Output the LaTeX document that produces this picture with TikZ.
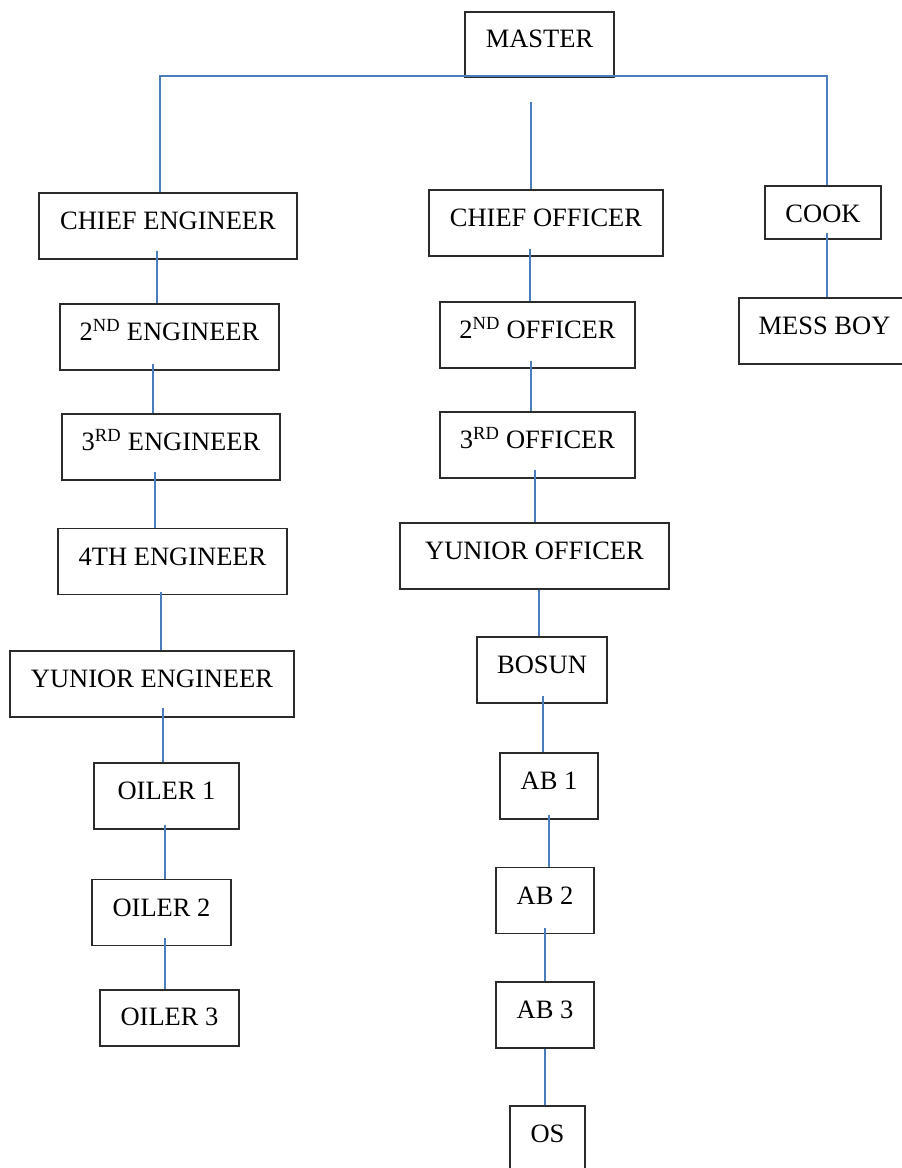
\documentclass[tikz,border=0pt]{standalone}
\usepackage{fontspec}
\setmainfont{Liberation Serif}
\usetikzlibrary{calc}
\definecolor{linkblue}{HTML}{4A7EBB}
\definecolor{boxline}{HTML}{2B2B2B}
\begin{document}
\begin{tikzpicture}[x=1pt,y=1pt,
  rank/.style={draw=boxline, line width=1.2pt, rectangle, inner sep=0pt,
    text height=36.5pt, text depth=29.5pt,
    font=\fontsize{26.5}{30}\selectfont},
  link/.style={draw=linkblue, line width=1.5pt}]
\useasboundingbox (0,0) rectangle (902,-1168);
\clip (0,0) rectangle (902,-1168);
\fill[white] (0,0) rectangle (902,-1168);
% nodes
\node[rank, text height=35pt, text depth=30pt, minimum width=149pt] (master) at (539.5,-44.5) {MASTER};
\node[rank, minimum width=258pt] (ce) at (168,-226) {CHIEF ENGINEER};
\node[rank, minimum width=234pt] (co) at (546,-223) {CHIEF OFFICER};
\node[rank, text height=36pt, text depth=17pt, minimum width=116pt] (cook) at (823,-212.5) {COOK};
\node[rank, minimum width=219pt] (e2) at (169.5,-337) {2\textsuperscript{ND} ENGINEER};
\node[rank, minimum width=218pt] (e3) at (171,-447) {3\textsuperscript{RD} ENGINEER};
\node[rank, minimum width=229pt] (e4) at (172.5,-561.5) {4TH ENGINEER};
\node[rank, minimum width=284pt] (ye) at (152,-684) {YUNIOR ENGINEER};
\node[rank, minimum width=145pt] (o1) at (166.5,-796) {OILER 1};
\node[rank, minimum width=139pt] (o2) at (161.5,-912.5) {OILER 2};
\node[rank, text height=35pt, text depth=21pt, minimum width=139pt] (o3) at (169.5,-1018) {OILER 3};
\node[rank, minimum width=195pt] (f2) at (537.5,-335) {2\textsuperscript{ND} OFFICER};
\node[rank, minimum width=195pt] (f3) at (537.5,-445) {3\textsuperscript{RD} OFFICER};
\node[rank, minimum width=269pt] (yo) at (534.5,-556) {YUNIOR OFFICER};
\node[rank, minimum width=130pt] (bosun) at (542,-670) {BOSUN};
\node[rank, minimum width=98pt] (ab1) at (549,-786) {AB 1};
\node[rank, minimum width=98pt] (ab2) at (545,-900.5) {AB 2};
\node[rank, minimum width=98pt] (ab3) at (545,-1015) {AB 3};
\node[rank, minimum width=75pt] (os) at (547.5,-1139) {OS};
\node[rank, minimum width=171pt] (mess) at (824.5,-331) {MESS BOY};
% top bar
\coordinate (hl) at (160,-76);
\coordinate (hr) at (827,-76);
\coordinate (ctop) at (531,-102);
\draw[link] (ce.north -| hl) -- (hl) -- (hr) -- (cook.north -| hr);
\draw[link] (ctop) -- (co.north -| ctop);
% engine column
\draw[link] ([xshift=-11pt,yshift=9pt]ce.south) -- ([xshift=-11pt]ce.south |- e2.north);
\draw[link] ([xshift=-16.5pt,yshift=7pt]e2.south) -- ([xshift=-16.5pt]e2.south |- e3.north);
\draw[link] ([xshift=-16pt,yshift=9pt]e3.south) -- ([xshift=-16pt]e3.south |- e4.north);
\draw[link] ([xshift=-11.5pt,yshift=3pt]e4.south) -- ([xshift=-11.5pt]e4.south |- ye.north);
\draw[link] ([xshift=11pt,yshift=10pt]ye.south) -- ([xshift=11pt]ye.south |- o1.north);
\draw[link] ([xshift=-1.5pt,yshift=5pt]o1.south) -- ([xshift=-1.5pt]o1.south |- o2.north);
\draw[link] ([xshift=3.5pt,yshift=8pt]o2.south) -- ([xshift=3.5pt]o2.south |- o3.north);
% deck column
\draw[link] ([xshift=-16pt,yshift=8pt]co.south) -- ([xshift=-16pt]co.south |- f2.north);
\draw[link] ([xshift=-6.5pt,yshift=8pt]f2.south) -- ([xshift=-6.5pt]f2.south |- f3.north);
\draw[link] ([xshift=-2.5pt,yshift=9pt]f3.south) -- ([xshift=-2.5pt]f3.south |- yo.north);
\draw[link] ([xshift=4.5pt]yo.south) -- ([xshift=4.5pt]yo.south |- bosun.north);
\draw[link] ([xshift=1pt,yshift=8pt]bosun.south) -- ([xshift=1pt]bosun.south |- ab1.north);
\draw[link] ([yshift=5pt]ab1.south) -- (ab1.south |- ab2.north);
\draw[link] ([yshift=6pt]ab2.south) -- (ab2.south |- ab3.north);
\draw[link] (ab3.south) -- (ab3.south |- os.north);
% galley
\draw[link] ([xshift=4pt,yshift=7pt]cook.south) -- ([xshift=4pt]cook.south |- mess.north);
\end{tikzpicture}
\end{document}
